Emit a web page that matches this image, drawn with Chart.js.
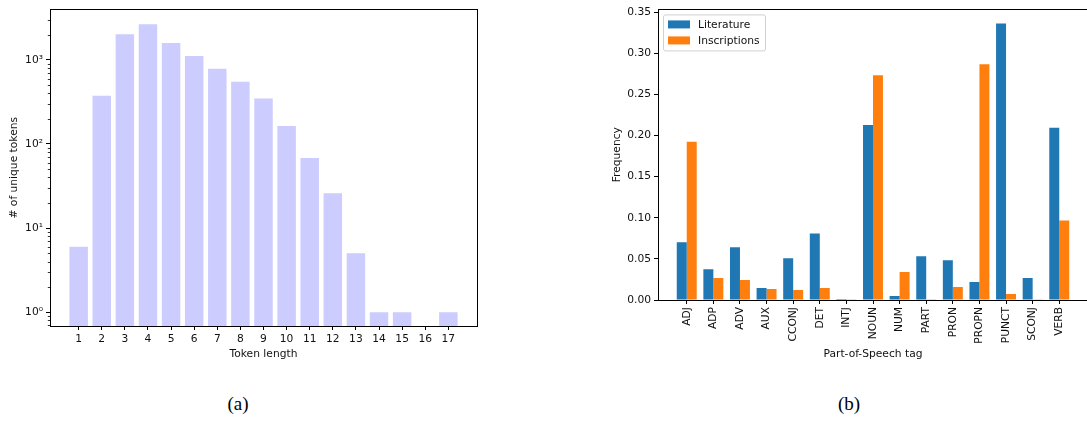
<!DOCTYPE html>
<html>
<head>
<meta charset="utf-8">
<script src="https://cdn.jsdelivr.net/npm/chart.js@4/dist/chart.umd.min.js"></script>
<style>
html, body { margin: 0; padding: 0; background: #fff; overflow: hidden; width: 1087px; height: 421px; }
.panel { position: absolute; top: 0; }
.cap { position: absolute; font-family: "Liberation Serif", serif; font-size: 19px; color: #000; transform: translateX(-50%); }
</style>
</head>
<body>
<div class="panel" style="left:0"><canvas id="lenChart" width="490" height="370" style="width:490px;height:370px"></canvas></div>
<div class="panel" style="left:590px"><canvas id="posChart" width="510" height="370" style="width:510px;height:370px"></canvas></div>
<div class="cap" style="left:238px;top:393px">(a)</div>
<div class="cap" style="left:849px;top:393px">(b)</div>

<script>
// (a) token length distribution
const tokenLengths = [1, 2, 3, 4, 5, 6, 7, 8, 9, 10, 11, 12, 13, 14, 15, 16, 17];
const uniqueTokens = [6, 374, 2023, 2653, 1585, 1114, 784, 551, 348, 163, 68, 26, 5, 1, 1, null, 1];
const logTicks = [1, 10, 100, 1000];
const logTickLabels = ['10⁰', '10¹', '10²', '10³'];

// (b) part-of-speech frequencies
const posTags = ['ADJ', 'ADP', 'ADV', 'AUX', 'CCONJ', 'DET', 'INTJ', 'NOUN', 'NUM', 'PART', 'PRON', 'PROPN', 'PUNCT', 'SCONJ', 'VERB'];
const literature = [0.0702, 0.0375, 0.0641, 0.0145, 0.0508, 0.0810, 0.0012, 0.2129, 0.0048, 0.0532, 0.0484, 0.0218, 0.3363, 0.0266, 0.2093];
const inscriptions = [0.1923, 0.0266, 0.0242, 0.0133, 0.0121, 0.0145, 0.0004, 0.2734, 0.0339, 0.0004, 0.0157, 0.2867, 0.0073, 0.0004, 0.0968];
const freqTicks = [0, 0.05, 0.10, 0.15, 0.20, 0.25, 0.30, 0.35];

const tickFont = { family: 'DejaVu Sans', size: 10.7 };
const textColor = '#111';

// box around the plot area (matplotlib spines)
const frame = {
    id: 'frame',
    afterDraw(chart) {
        const a = chart.chartArea;
        const ctx = chart.ctx;
        ctx.save();
        ctx.strokeStyle = '#000';
        ctx.lineWidth = 1;
        ctx.strokeRect(Math.round(a.left) + 0.5, Math.round(a.top) + 0.5,
            Math.round(a.right - a.left), Math.round(a.bottom - a.top));
        ctx.restore();
    }
};

// minor ticks on the log axis
const minorTicks = {
    id: 'minorTicks',
    afterDraw(chart) {
        const s = chart.scales.y;
        const ctx = chart.ctx;
        ctx.save();
        ctx.strokeStyle = '#000';
        ctx.lineWidth = 0.8;
        for (let k = -1; k <= 3; k++) {
            for (let m = 2; m <= 9; m++) {
                const v = m * Math.pow(10, k);
                if (v < s.min || v > s.max) continue;
                const y = Math.round(s.getPixelForValue(v)) + 0.5;
                ctx.beginPath();
                ctx.moveTo(chart.chartArea.left, y);
                ctx.lineTo(chart.chartArea.left - 2.2, y);
                ctx.stroke();
            }
        }
        ctx.restore();
    }
};

// legend drawn inside the plot, top left
const innerLegend = {
    id: 'innerLegend',
    afterDraw(chart) {
        const ctx = chart.ctx;
        const x = chart.chartArea.left + 5;
        const y = chart.chartArea.top + 5;
        ctx.save();
        ctx.beginPath();
        ctx.roundRect(x + 0.5, y + 0.5, 102, 36, 2);
        ctx.fillStyle = 'rgba(255,255,255,0.8)';
        ctx.fill();
        ctx.strokeStyle = '#d0d0d0';
        ctx.lineWidth = 1;
        ctx.stroke();
        ctx.font = '10.7px "DejaVu Sans"';
        ctx.textBaseline = 'middle';
        chart.data.datasets.forEach((ds, i) => {
            const ry = y + 6 + i * 16;
            ctx.fillStyle = ds.backgroundColor;
            ctx.fillRect(x + 5, ry, 22, 8);
            ctx.fillStyle = textColor;
            ctx.fillText(ds.label, x + 35, ry + 4.5);
        });
        ctx.restore();
    }
};

new Chart(document.getElementById('lenChart'), {
    type: 'bar',
    data: {
        datasets: [{
            label: 'Unique tokens',
            data: tokenLengths.map((t, i) => ({ x: t, y: uniqueTokens[i] })),
            backgroundColor: '#ccccff',
            borderWidth: 0,
            categoryPercentage: 0.8,
            barPercentage: 1.0
        }]
    },
    options: {
        responsive: false,
        animation: false,
        layout: { padding: { left: 0, right: 13, top: 6, bottom: 0 } },
        plugins: { legend: { display: false }, tooltip: { enabled: false } },
        scales: {
            x: {
                type: 'linear',
                offset: false,
                min: -0.24,
                max: 18.24,
                afterBuildTicks: s => { s.ticks = tokenLengths.map(v => ({ value: v })); },
                afterFit: s => { s.height = 44; },
                border: { display: false },
                grid: { offset: false, drawOnChartArea: false, drawTicks: true, tickLength: 4, tickColor: '#000' },
                ticks: { padding: 3, color: textColor, font: tickFont, maxRotation: 0, autoSkip: false,
                    callback: v => String(v) },
                title: { display: true, text: 'Token length', color: textColor, font: tickFont,
                    padding: { top: 0, bottom: 9.5 } }
            },
            y: {
                type: 'logarithmic',
                min: 0.684,
                max: 3981,
                afterBuildTicks: s => { s.ticks = logTicks.map(v => ({ value: v })); },
                afterFit: s => { s.width = 50; },
                border: { display: false },
                grid: { drawOnChartArea: false, drawTicks: true, tickLength: 4, tickColor: '#000' },
                ticks: { padding: 3, color: textColor, font: tickFont, autoSkip: false,
                    callback: (v, i) => logTickLabels[i] },
                title: { display: true, text: '# of unique tokens', color: textColor, font: tickFont,
                    padding: { top: 7.4, bottom: 0 } }
            }
        }
    },
    plugins: [frame, minorTicks]
});

new Chart(document.getElementById('posChart'), {
    type: 'bar',
    data: {
        datasets: [{
            label: 'Literature',
            data: posTags.map((t, i) => ({ x: i, y: literature[i] })),
            backgroundColor: '#1f77b4',
            borderWidth: 0,
            categoryPercentage: 0.75,
            barPercentage: 1.0
        }, {
            label: 'Inscriptions',
            data: posTags.map((t, i) => ({ x: i, y: inscriptions[i] })),
            backgroundColor: '#ff7f0e',
            borderWidth: 0,
            categoryPercentage: 0.75,
            barPercentage: 1.0
        }]
    },
    options: {
        responsive: false,
        animation: false,
        layout: { padding: { left: 0, right: 12, top: 8, bottom: 0 } },
        plugins: { legend: { display: false }, tooltip: { enabled: false } },
        scales: {
            x: {
                type: 'linear',
                offset: false,
                min: -1.08,
                max: 15.08,
                afterBuildTicks: s => { s.ticks = posTags.map((t, i) => ({ value: i })); },
                afterFit: s => { s.height = 70; },
                border: { display: false },
                grid: { offset: false, drawOnChartArea: false, drawTicks: true, tickLength: 4, tickColor: '#000' },
                ticks: { padding: 3, color: textColor, font: tickFont, minRotation: 90, maxRotation: 90,
                    autoSkip: false, callback: v => posTags[v] },
                title: { display: true, text: 'Part-of-Speech tag', color: textColor, font: tickFont,
                    padding: { top: 0, bottom: 9.5 } }
            },
            y: {
                min: 0,
                max: 0.3533,
                afterBuildTicks: s => { s.ticks = freqTicks.map(v => ({ value: v })); },
                afterFit: s => { s.width = 68; },
                border: { display: false },
                grid: { drawOnChartArea: false, drawTicks: true, tickLength: 4, tickColor: '#000' },
                ticks: { padding: 3, color: textColor, font: tickFont, autoSkip: false,
                    callback: v => v.toFixed(2) },
                title: { display: true, text: 'Frequency', color: textColor, font: tickFont,
                    padding: { top: 20.6, bottom: 0 } }
            }
        }
    },
    plugins: [frame, innerLegend]
});
</script>
</body>
</html>
